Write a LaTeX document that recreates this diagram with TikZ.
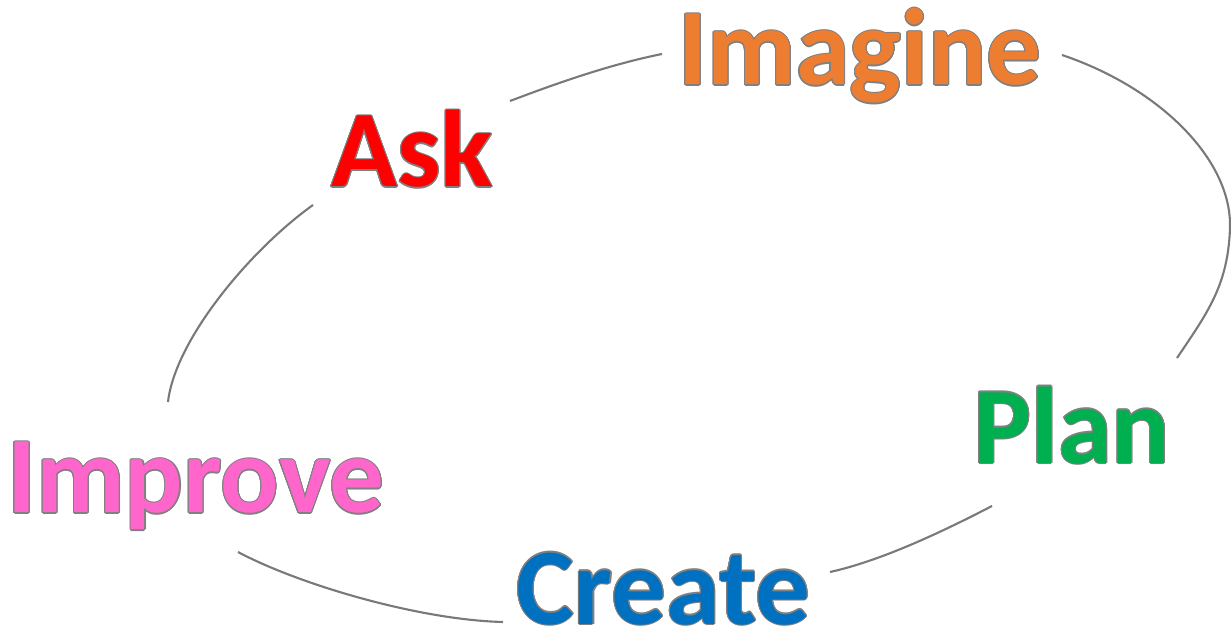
\documentclass[tikz,border=0pt]{standalone}
\usepackage{fontspec}
\setmainfont{Carlito}
\usepackage[copies]{contour}
\contourlength{0.6pt}
\definecolor{askred}{HTML}{FF0000}
\definecolor{imagorange}{HTML}{ED7D31}
\definecolor{plangreen}{HTML}{00B050}
\definecolor{createblue}{HTML}{0070C0}
\definecolor{improvepink}{HTML}{FF66CC}
\begin{document}
\begin{tikzpicture}[x=0.02cm,y=-0.02cm,
  word/.style={inner sep=0pt,anchor=base west,font=\fontsize{62}{62}\selectfont\bfseries},
  ring/.style={draw=gray!95!black,line width=1.2pt}]
\useasboundingbox (0,0) rectangle (1231,631);
% the five steps
\node[word,text=askred] (ask) at (331,187) {\contour{gray}{Ask}};
\node[word,text=imagorange] (imagine) at (678,85) {\contour{gray}{Imagine}};
\node[word,text=plangreen] (plan) at (973,463) {\contour{gray}{Plan}};
\node[word,text=createblue] (create) at (516,624) {\contour{gray}{Create}};
\node[word,text=improvepink] (improve) at (7,513) {\contour{gray}{Improve}};
% ends of the loop pieces
\coordinate (ask-r) at (510,101);
\coordinate (imagine-l) at (662,54);
\coordinate (imagine-r) at (1062,55);
\coordinate (plan-t) at (1177,358);
\coordinate (plan-b) at (992,506);
\coordinate (create-r) at (830,572);
\coordinate (create-l) at (503,622);
\coordinate (improve-b) at (238,552);
\coordinate (improve-t) at (168,402);
\coordinate (ask-l) at (313,205);
% the loop
\draw[ring] (ask-r) .. controls (560,82) and (612,64) .. (imagine-l);
\draw[ring] (imagine-r) .. controls (1160,88) and (1232,160) .. (1230,228)
  .. controls (1228,285) and (1208,312) .. (plan-t);
\draw[ring] (plan-b) .. controls (940,533) and (880,561) .. (create-r);
\draw[ring] (create-l) .. controls (420,620) and (300,585) .. (improve-b);
\draw[ring] (improve-t) .. controls (175,340) and (250,250) .. (ask-l);
\end{tikzpicture}
\end{document}
